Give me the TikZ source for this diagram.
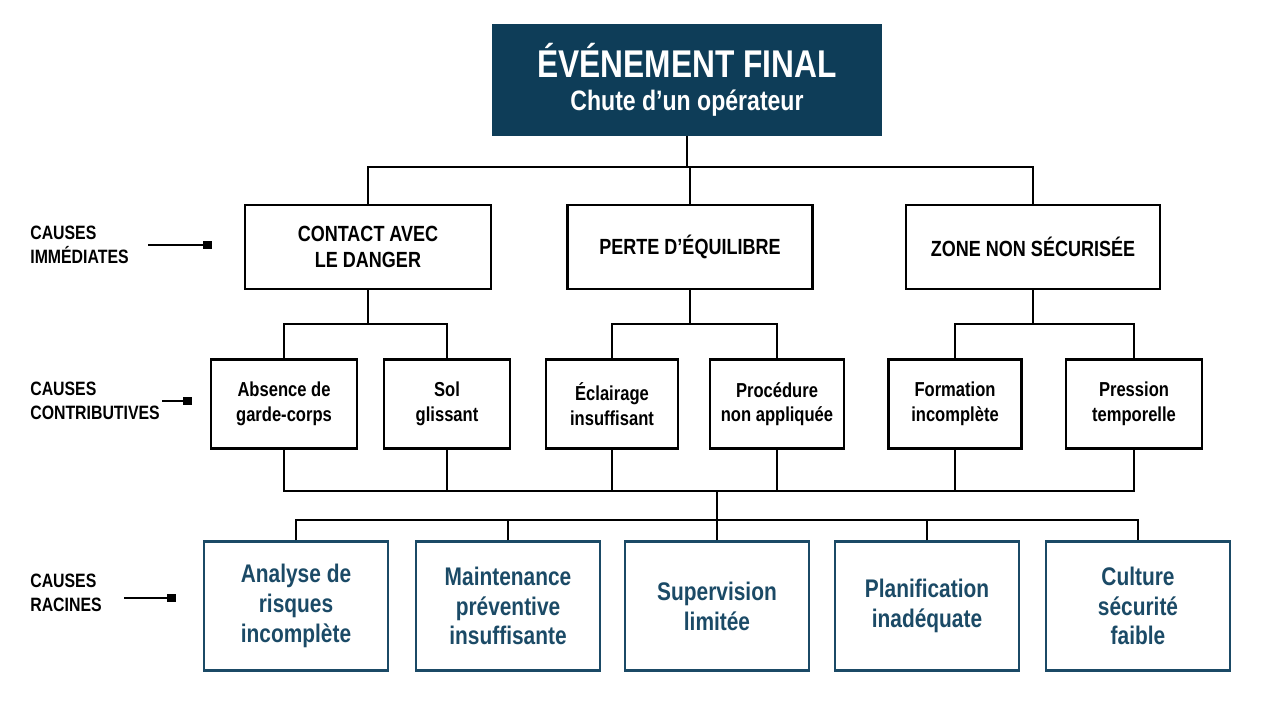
\documentclass[tikz,border=0pt]{standalone}
\usepackage{fontspec}
\setmainfont{Liberation Sans}[FakeStretch=0.82]
\usepackage{tikz}
\usetikzlibrary{arrows.meta}

\definecolor{navy}{HTML}{0E3D58}
\definecolor{rootblue}{HTML}{1B4A66}

\begin{document}
\begin{tikzpicture} [x=0.02cm, y=-0.02cm, font=\bfseries, align=center,
  link/.style={line width=1.2pt},
  label/.style={anchor=west, align=left, inner sep=0pt, font=\bfseries\fontsize{11}{14}\selectfont},
  tag/.style={line width=1.2pt, -{Square[length=5pt, width=5pt]}},
  immbox/.style={draw, line width=1.2pt, minimum height=1.68cm, font=\bfseries\fontsize{12.5}{14.5}\selectfont},
  contbox/.style={draw, line width=1.2pt, minimum height=1.78cm, font=\bfseries\fontsize{11.5}{14}\selectfont},
  rootbox/.style={draw=rootblue, text=rootblue, line width=1.4pt, minimum width=3.68cm, minimum height=2.58cm, font=\bfseries\fontsize{14.5}{17}\selectfont}]
\useasboundingbox (0,0) rectangle (1280,720);

% final event
\path (687,80) node[fill=navy, text=white, minimum width=7.8cm, minimum height=2.24cm] (top)
      {{\fontsize{22}{26}\selectfont ÉVÉNEMENT FINAL}\\[7pt]{\fontsize{16}{19}\selectfont Chute d'un opérateur}};

% immediate causes
\path (368,247) node[immbox, minimum width=4.92cm] (c1) {CONTACT AVEC\\LE DANGER}
      (690,247) node[immbox, minimum width=4.90cm] (c2) {PERTE D'ÉQUILIBRE}
      (1033,247) node[immbox, minimum width=5.08cm] (c3) {ZONE NON SÉCURISÉE};

% contributing causes
\path (284,404) node[contbox, minimum width=2.92cm] (a1) {Absence de\\garde-corps}
      (447,404) node[contbox, minimum width=2.52cm] (a2) {Sol\\glissant}
      (612,404) node[contbox, minimum width=2.64cm] (a3) {Éclairage\\insuffisant}
      (777,404) node[contbox, minimum width=2.68cm] (a4) {Procédure\\non appliquée}
      (955,404) node[contbox, minimum width=2.66cm] (a5) {Formation\\incomplète}
      (1134,404) node[contbox, minimum width=2.72cm] (a6) {Pression\\temporelle};

% root causes
\path (296,606) node[rootbox] (r1) {Analyse de\\risques\\incomplète}
      (508,606) node[rootbox] (r2) {Maintenance\\préventive\\insuffisante}
      (717,606) node[rootbox] (r3) {Supervision\\limitée}
      (927,606) node[rootbox] (r4) {Planification\\inadéquate}
      (1138,606) node[rootbox] (r5) {Culture\\sécurité\\faible};

% junctions
\coordinate (j0) at (687,167);
\coordinate (j1) at (368,324);
\coordinate (j2) at (694,324);
\coordinate (j3) at (1044,324);
\coordinate (j4) at (717,491);
\coordinate (j5) at (717,520);

\draw[link] (top) -- (j0);
\draw[link] (c1.north) |- (j0) -| (c3.north);
\draw[link] (c2.north) -- (c2.north |- j0);

\draw[link] (c1) -- (j1);
\draw[link] (a1.north) |- (j1) -| (a2.north);
\draw[link] (c2) -- (c2 |- j2);
\draw[link] (a3.north) |- (j2) -| (a4.north);
\draw[link] (c3) -- (c3 |- j3);
\draw[link] (a5.north) |- (j3) -| (a6.north);

\draw[link] (a1.south) |- (j4) -| (a6.south);
\foreach \n in {a2,a3,a4,a5}
  \draw[link] (\n.south) -- (\n.south |- j4);
\draw[link] (j4) -- (j5);
\draw[link] (r1.north) |- (j5) -| (r5.north);
\foreach \n in {r2,r3,r4}
  \draw[link] (\n.north) -- (\n.north |- j5);

% level labels
\path (30,245) node[label] (l1) {CAUSES\\IMMÉDIATES}
      (30,401) node[label] (l2) {CAUSES\\CONTRIBUTIVES}
      (30,593) node[label] (l3) {CAUSES\\RACINES};
\coordinate (t1a) at (148,245);
\coordinate (t1b) at (212,245);
\coordinate (t2a) at (162,401);
\coordinate (t2b) at (192,401);
\coordinate (t3a) at (124,598);
\coordinate (t3b) at (176,598);
\draw[tag] (t1a) -- (t1b);
\draw[tag] (t2a) -- (t2b);
\draw[tag] (t3a) -- (t3b);

\end{tikzpicture}
\end{document}
